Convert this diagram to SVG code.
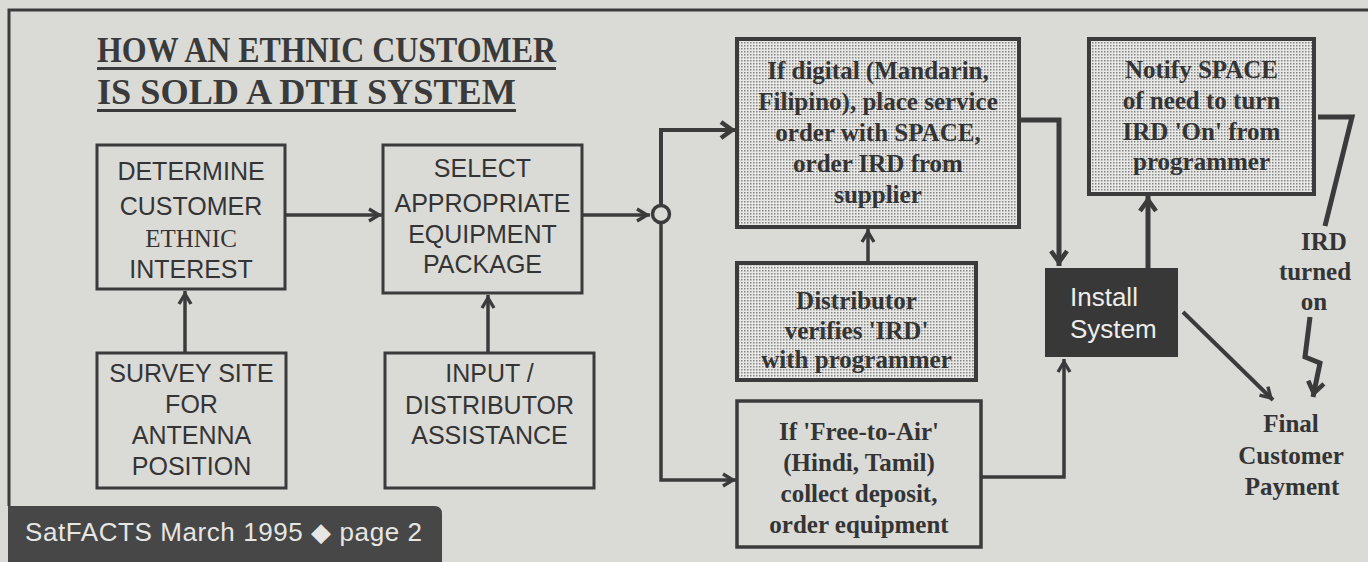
<svg xmlns="http://www.w3.org/2000/svg" width="1368" height="562" viewBox="0 0 1368 562">
<style>
.bg{fill:#dadad7}
.box{fill:none;stroke:#3b3b3b;stroke-width:3}
.dbox{fill:url(#dots);stroke:#3b3b3b;stroke-width:4}
.sans{font-family:"Liberation Sans",Arial,sans-serif;font-size:25px;fill:#343434;text-anchor:middle}
.serif{font-family:"Liberation Serif","Times New Roman",serif;font-size:25px;fill:#343434;text-anchor:middle}
.bold{font-family:"Liberation Serif","Times New Roman",serif;font-size:25px;font-weight:bold;fill:#343434;text-anchor:middle}
.title{font-family:"Liberation Serif","Times New Roman",serif;font-size:35px;font-weight:bold;fill:#3a3a3a}
.con{fill:none;stroke:#3b3b3b;stroke-width:3.5;stroke-linejoin:miter}
.thick{fill:none;stroke:#3b3b3b;stroke-width:5;stroke-linejoin:miter}
</style>
<defs>
<pattern id="dots" width="3" height="3" patternUnits="userSpaceOnUse">
<rect width="3" height="3" fill="#e8e8e6"/>
<rect width="1.5" height="1.5" fill="#858585"/>
</pattern>
<marker id="ah" viewBox="0 0 18 16" refX="15" refY="8" markerWidth="18" markerHeight="16" markerUnits="userSpaceOnUse" orient="auto" overflow="visible">
<path d="M2,2 L12,8 L2,14" fill="none" stroke="#3b3b3b" stroke-width="3.4"/>
</marker>
<marker id="ahB" viewBox="0 0 22 20" refX="17" refY="10" markerWidth="22" markerHeight="20" markerUnits="userSpaceOnUse" orient="auto" overflow="visible">
<path d="M2,2 L13,10 L2,18" fill="none" stroke="#3b3b3b" stroke-width="4.6"/>
</marker>
</defs>
<rect class="bg" x="0" y="0" width="1368" height="562"/>

<g id="frame">
<path d="M1368,10 H9 V506" fill="none" stroke="#3b3b3b" stroke-width="3"/>
<path d="M8,506 H434 Q442,506 442,514 V562 H8 Z" fill="#474747"/>
<text x="25" y="541" font-family="Liberation Sans,Arial,sans-serif" font-size="26" fill="#e6e6e4" textLength="397" lengthAdjust="spacing">SatFACTS March 1995 ◆ page 2</text>
</g>

<g id="title">
<text class="title" x="97" y="62" textLength="459" lengthAdjust="spacingAndGlyphs">HOW AN ETHNIC CUSTOMER</text>
<rect x="97" y="67" width="459" height="3" fill="#3a3a3a"/>
<text class="title" x="97" y="104" textLength="419" lengthAdjust="spacingAndGlyphs">IS SOLD A DTH SYSTEM</text>
<rect x="97" y="109" width="419" height="3" fill="#3a3a3a"/>
</g>

<g id="connectors">
<path class="con" d="M285,215 H382" marker-end="url(#ah)"/>
<path class="con" d="M185,353 V291" marker-end="url(#ah)"/>
<path class="con" d="M488,353 V295" marker-end="url(#ah)"/>
<path class="con" d="M582,215 H650" marker-end="url(#ah)"/>
<circle cx="661" cy="214" r="8.5" fill="#dadad7" stroke="#3b3b3b" stroke-width="3.5"/>
<path class="con" d="M661,205.5 V130 H736" marker-end="url(#ahB)" style="stroke-width:4"/>
<path class="con" d="M661,222.5 V480 H736" marker-end="url(#ah)"/>
<path class="con" d="M868,262 V229" marker-end="url(#ah)"/>
<path class="thick" d="M1019,120 H1059 V266" marker-end="url(#ahB)"/>
<path class="thick" d="M1148,268 V196" marker-end="url(#ahB)"/>
<path class="con" d="M981,477 H1064 V359" marker-end="url(#ah)"/>
<path class="con" d="M1183,312 L1273,400" marker-end="url(#ah)" style="stroke-width:4"/>
<path class="thick" d="M1318,117 H1352 L1325,226"/>
<path class="thick" d="M1310,317 L1305,357 L1320,363 L1313,397" marker-end="url(#ahB)"/>
</g>

<g id="determine">
<rect class="box" x="97" y="145" width="188" height="144"/>
<text class="sans" x="191" y="180">DETERMINE</text>
<text class="sans" x="191" y="215">CUSTOMER</text>
<text class="serif" x="191" y="247">ETHNIC</text>
<text class="sans" x="191" y="278">INTEREST</text>
</g>

<g id="select">
<rect class="box" x="383" y="145" width="199" height="148"/>
<text class="sans" x="482.5" y="177">SELECT</text>
<text class="sans" x="482.5" y="212">APPROPRIATE</text>
<text class="sans" x="482.5" y="243">EQUIPMENT</text>
<text class="sans" x="482.5" y="273">PACKAGE</text>
</g>

<g id="survey">
<rect class="box" x="97" y="353" width="189" height="135"/>
<text class="sans" x="191.5" y="382">SURVEY SITE</text>
<text class="sans" x="191.5" y="413">FOR</text>
<text class="sans" x="191.5" y="444">ANTENNA</text>
<text class="sans" x="191.5" y="475">POSITION</text>
</g>

<g id="input">
<rect class="box" x="385" y="353" width="209" height="135"/>
<text class="sans" x="489.5" y="382">INPUT /</text>
<text class="sans" x="489.5" y="414">DISTRIBUTOR</text>
<text class="sans" x="489.5" y="444">ASSISTANCE</text>
</g>

<g id="digital">
<rect class="dbox" x="737" y="39" width="282" height="188"/>
<text class="bold" x="878" y="79">If digital (Mandarin,</text>
<text class="bold" x="878" y="110">Filipino), place service</text>
<text class="bold" x="878" y="141">order with SPACE,</text>
<text class="bold" x="878" y="172">order IRD from</text>
<text class="bold" x="878" y="203">supplier</text>
</g>

<g id="distributor">
<rect class="dbox" x="737" y="263" width="239" height="117"/>
<text class="bold" x="856.5" y="309">Distributor</text>
<text class="bold" x="856.5" y="339">verifies 'IRD'</text>
<text class="bold" x="856.5" y="368">with programmer</text>
</g>

<g id="freetoair">
<rect class="box" x="737" y="401" width="244" height="146" style="stroke-width:3.5"/>
<text class="bold" x="859" y="440">If 'Free-to-Air'</text>
<text class="bold" x="859" y="471">(Hindi, Tamil)</text>
<text class="bold" x="859" y="502">collect deposit,</text>
<text class="bold" x="859" y="533">order equipment</text>
</g>

<g id="install">
<rect x="1045" y="268" width="133" height="89" fill="#383838"/>
<text x="1070" y="306" font-family="Liberation Sans,Arial,sans-serif" font-size="26" fill="#ededeb">Install</text>
<text x="1070" y="338" font-family="Liberation Sans,Arial,sans-serif" font-size="26" fill="#ededeb">System</text>
</g>

<g id="notify">
<rect class="dbox" x="1089" y="39" width="225" height="155"/>
<text class="bold" x="1201.5" y="78">Notify SPACE</text>
<text class="bold" x="1201.5" y="109">of need to turn</text>
<text class="bold" x="1201.5" y="140">IRD 'On' from</text>
<text class="bold" x="1201.5" y="170">programmer</text>
</g>

<g id="irdon">
<text class="bold" x="1324" y="250">IRD</text>
<text class="bold" x="1315" y="280">turned</text>
<text class="bold" x="1314" y="310">on</text>
</g>

<g id="payment">
<text class="bold" x="1291" y="432">Final</text>
<text class="bold" x="1291" y="464">Customer</text>
<text class="bold" x="1292" y="495">Payment</text>
</g>
</svg>
